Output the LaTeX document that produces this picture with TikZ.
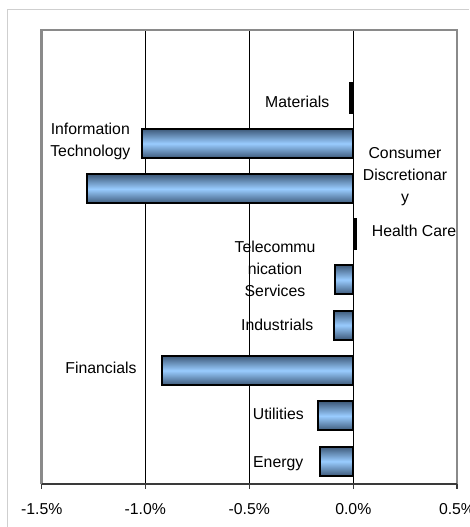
\documentclass[tikz,border=0pt]{standalone}
\usepackage{fontspec}
\setmainfont{Liberation Sans}
\definecolor{bardark}{HTML}{3E5A7A}
\definecolor{barlight}{HTML}{99CCFF}
\definecolor{framegray}{HTML}{CFCFCF}
\definecolor{plotgray}{HTML}{8A8A8A}
\definecolor{axisgray}{HTML}{3A3A3A}
\begin{document}
\begin{tikzpicture}[x=1pt,y=-1pt,
  lbl/.style={font=\fontsize{15.8}{22}\selectfont, inner sep=0pt, text=black},
  gridline/.style={black, line width=0.8pt},
  bar/.style={draw=black, line width=2pt, top color=bardark, bottom color=bardark, middle color=barlight},
  thinbar/.style={fill=black},
  tickmark/.style={axisgray, line width=1.2pt}]
\useasboundingbox (0,0) rectangle (469,527);
% outer chart frame (top and left visible)
\draw[framegray, line width=1pt] (7.3,527) -- (7.3,9.5) -- (469,9.5);
% gridlines
\foreach \gx in {145.3,249.3,353.3} \draw[gridline] (\gx,30) -- (\gx,484);
% bars
\fill[thinbar] (349.3,82) rectangle (353.3,114);
\draw[bar] (142,129) rectangle (352.8,158);
\draw[bar] (87,174.4) rectangle (352.8,203.4);
\fill[thinbar] (352.7,218.3) rectangle (356.7,250.3);
\draw[bar] (335,265.2) rectangle (352.8,294.2);
\draw[bar] (333.7,310.6) rectangle (352.8,339.6);
\draw[bar] (162,356) rectangle (352.8,385);
\draw[bar] (318.3,401.4) rectangle (352.8,430.4);
\draw[bar] (320.3,446.8) rectangle (352.8,475.8);
% plot area border
\draw[plotgray, line width=2.2pt] (41.5,484) -- (41.5,30) -- (457,30) -- (457,484);
\draw[axisgray, line width=1.6pt] (41.5,484) -- (457,484);
\foreach \tx in {41.5,145.3,249.3,353.3,457} \draw[tickmark] (\tx,484) -- (\tx,488.5);
% category labels
\node[lbl, anchor=base east] (mat) at (329.5,107.7) {Materials};
\node[lbl, align=center] (it) at (90.3,141.5) {Information\\Technology};
\node[lbl, align=center] (cd) at (405,176.3) {Consumer\\Discretionar\\y};
\node[lbl, anchor=base west] (hc) at (371.7,236.5) {Health Care};
\node[lbl, align=center] (tel) at (275,268.9) {Telecommu\\nication\\Services};
\node[lbl, anchor=base west] (ind) at (241,330) {Industrials};
\node[lbl, anchor=base east] (fin) at (136.7,373.3) {Financials};
\node[lbl, anchor=base west] (uti) at (252.7,419.3) {Utilities};
\node[lbl, anchor=base west] (ene) at (253,467.5) {Energy};
% axis labels
\node[lbl, anchor=base] (xa) at (41.7,514) {-1.5\%};
\node[lbl, anchor=base] (xb) at (145.3,514) {-1.0\%};
\node[lbl, anchor=base] (xc) at (249.3,514) {-0.5\%};
\node[lbl, anchor=base] (xd) at (353.3,514) {0.0\%};
\node[lbl, anchor=base] (xe) at (457,514) {0.5\%};
\end{tikzpicture}
\end{document}
